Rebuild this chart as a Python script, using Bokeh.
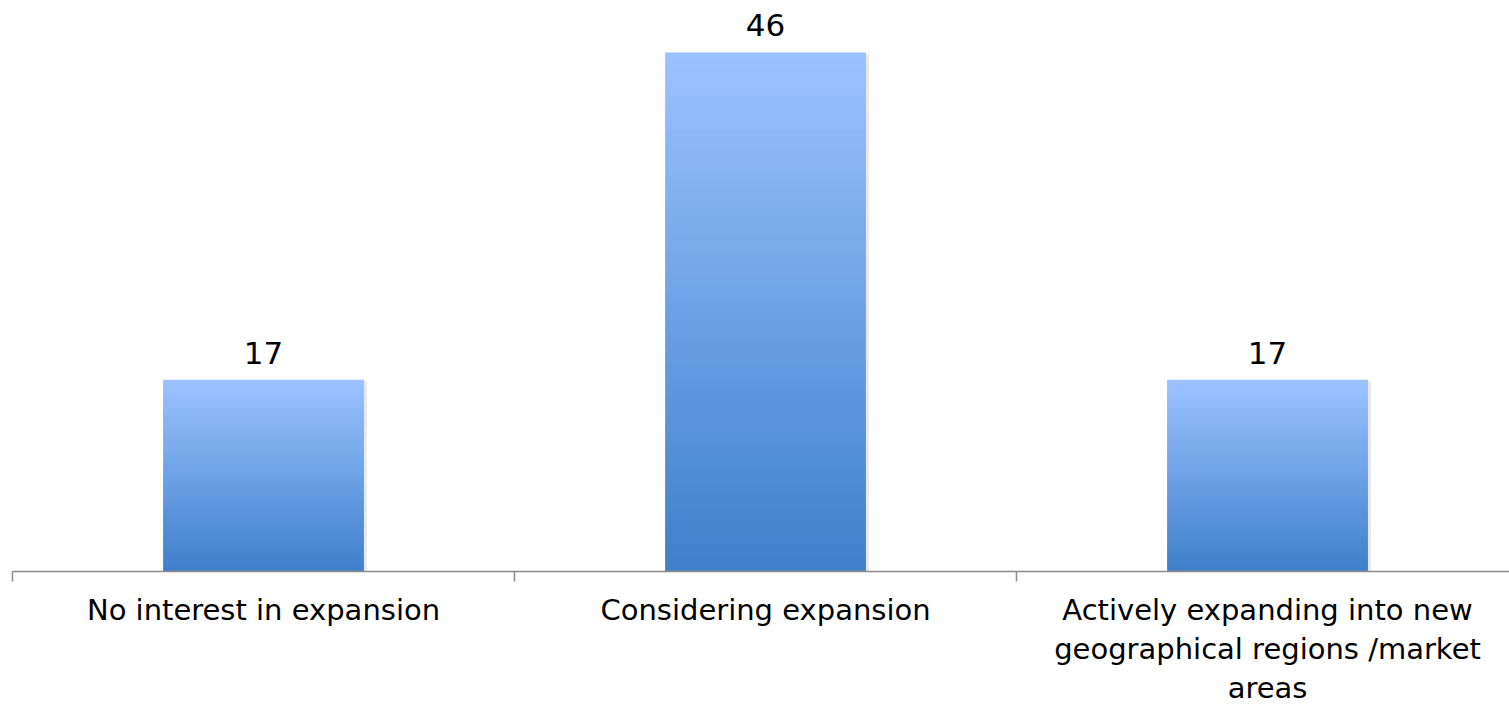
from bokeh.plotting import figure
from bokeh.models import Range1d, FixedTicker, ColumnDataSource
from bokeh.embed import file_html
from bokeh.resources import INLINE
from bokeh.core.properties import value

# Survey responses (percent)
categories = ["No interest in expansion", "Considering expansion",
              "Actively expanding into new\ngeographical regions /market\nareas"]
values = [17, 46, 17]

FONT = "DejaVu Sans"
TOP_COLOR = (0x9C, 0xC3, 0xFF)
BOTTOM_COLOR = (0x3F, 0x7F, 0xCC)
N_STEPS = 60

xs = [i + 0.5 for i in range(len(values))]
bar_w = 0.4

p = figure(width=1509, height=707, output_backend="svg", toolbar_location=None,
           x_range=Range1d(0, 2.982), y_range=Range1d(0, 50.6),
           min_border_left=12, min_border_right=0, min_border_top=0,
           min_border_bottom=136, y_axis_location=None)
p.outline_line_color = None
p.xgrid.visible = False
p.ygrid.visible = False
p.background_fill_color = "white"
p.border_fill_color = "white"

# soft drop shadow behind each bar
shadow = ColumnDataSource(dict(l=[x - bar_w / 2 + 0.004 for x in xs],
                               r=[x + bar_w / 2 + 0.006 for x in xs],
                               t=[v - 0.15 for v in values],
                               b=[0 for _ in values]))
p.quad(left="l", right="r", top="t", bottom="b", source=shadow,
       fill_color="#808080", fill_alpha=0.18, line_color=None)

# vertical gradient: stack thin slices from dark (bottom) to light (top)
left, right, bottom, top, colors = [], [], [], [], []
for x, v in zip(xs, values):
    for k in range(N_STEPS):
        f0 = k / N_STEPS
        f1 = (k + 1) / N_STEPS
        fm = (f0 + f1) / 2
        c = tuple(round(BOTTOM_COLOR[j] + (TOP_COLOR[j] - BOTTOM_COLOR[j]) * fm) for j in range(3))
        left.append(x - bar_w / 2)
        right.append(x + bar_w / 2)
        bottom.append(v * f0)
        top.append(min(v * f1 + 0.12, v))
        colors.append("#%02x%02x%02x" % c)
grad = ColumnDataSource(dict(l=left, r=right, b=bottom, t=top, c=colors))
p.quad(left="l", right="r", bottom="b", top="t", fill_color="c",
       line_color=None, source=grad)

# value labels above bars
lab = ColumnDataSource(dict(x=xs, y=[v + 2.4 for v in values], t=[str(v) for v in values]))
p.text(x="x", y="y", text="t", source=lab, text_align="center",
       text_baseline="middle",
       text_font=value(FONT), text_font_size="31px", text_color="black")

# category axis: labels at bar centres, tick marks at category boundaries
ax = p.xaxis[0]
ax.ticker = FixedTicker(ticks=xs, minor_ticks=[0, 1, 2, 3])
ax.major_label_overrides = {x: c for x, c in zip(xs, categories)}
ax.major_tick_out = 0
ax.major_tick_in = 0
ax.minor_tick_out = 10
ax.minor_tick_in = 0
ax.minor_tick_line_color = "#8c8c8c"
ax.minor_tick_line_width = 1.5
ax.axis_line_color = "#8c8c8c"
ax.axis_line_width = 1.5
ax.major_label_standoff = 11
ax.major_label_text_font = FONT
ax.major_label_text_font_size = "29px"
ax.major_label_text_line_height = 1.15
ax.major_label_text_color = "black"
ax.major_label_text_align = "center"

open("out.html", "w").write(file_html(p, INLINE))
